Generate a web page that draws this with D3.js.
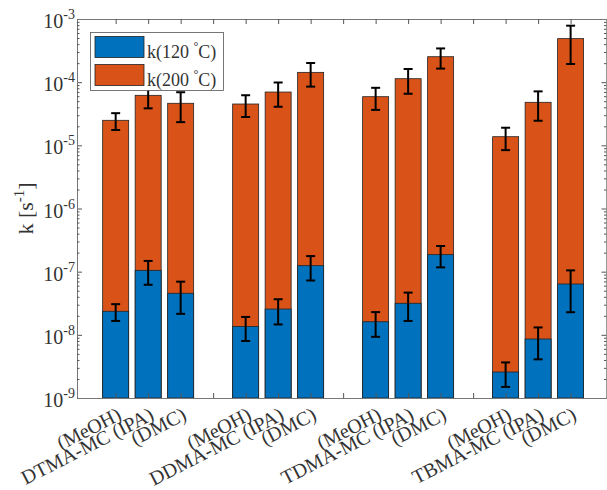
<!DOCTYPE html>
<html>
<head>
<meta charset="utf-8">
<script src="https://cdn.jsdelivr.net/npm/d3@7"></script>
<style>
  body { margin: 0; background: #fff; }
  svg { display: block; font-family: "Liberation Serif", "Times New Roman", serif; }
</style>
</head>
<body>
<div class="graph"></div>
<script>
// bar positions and labels (gaps at 4, 8, 12)
var positions = [1, 2, 3, 5, 6, 7, 9, 10, 11, 13, 14, 15];
var labels = ["(MeOH)", "DTMA-MC (IPA)", "(DMC)",
              "(MeOH)", "DDMA-MC (IPA)", "(DMC)",
              "(MeOH)", "TDMA-MC (IPA)", "(DMC)",
              "(MeOH)", "TBMA-MC (IPA)", "(DMC)"];
// rate constants [1/s]
var k120 = [2.36e-8, 1.05e-7, 4.55e-8, 1.36e-8, 2.56e-8, 1.245e-7, 1.61e-8, 3.16e-8, 1.86e-7, 2.58e-9, 8.59e-9, 6.38e-8];
var k120err = [0.7e-8, 0.43e-7, 2.4e-8, 0.56e-8, 1.1e-8, 0.52e-7, 0.68e-8, 1.5e-8, 0.69e-7, 1.08e-9, 4.5e-9, 4.1e-8];
var k200 = [2.49e-5, 6.19e-5, 4.63e-5, 4.51e-5, 6.98e-5, 1.43e-4, 5.89e-5, 1.135e-4, 2.53e-4, 1.37e-5, 4.80e-5, 4.89e-4];
var k200err = [0.74e-5, 2.34e-5, 2.3e-5, 1.7e-5, 2.9e-5, 0.58e-4, 2.25e-5, 4.8e-5, 0.89e-4, 0.53e-5, 2.35e-5, 2.95e-4];
var yExponents = [-9, -8, -7, -6, -5, -4, -3];
var legendLabels = ["120", "200"];

var blue = "#0072BD", orange = "#D95319";
var W = 607, H = 490;
var margin = { top: 19, right: 0, bottom: 92, left: 77 };
var plotL = margin.left, plotR = W - margin.right, plotT = margin.top, plotB = H - margin.bottom;

var svg = d3.select(".graph").append("svg")
    .attr("width", W)
    .attr("height", H);

var x = d3.scaleLinear().domain([-0.19, 16.12]).range([plotL, plotR]);
var y = d3.scaleLog().domain([1e-9, 1e-3]).range([plotB, plotT]);
var bw = (x(1) - x(0)) * 0.8;

var data = positions.map(function (p, i) {
    return { pos: p, label: labels[i], k120: k120[i], e120: k120err[i], k200: k200[i], e200: k200err[i] };
});

// bars: the 200 C bar behind, 120 C bar in front
var bars = svg.append("g");
bars.selectAll(".b200").data(data).enter().append("rect")
    .attr("x", function (d) { return x(d.pos) - bw / 2; })
    .attr("y", function (d) { return y(d.k200); })
    .attr("width", bw)
    .attr("height", function (d) { return plotB - y(d.k200); })
    .attr("fill", orange).attr("stroke", "#222").attr("stroke-width", 0.8);
bars.selectAll(".b120").data(data).enter().append("rect")
    .attr("x", function (d) { return x(d.pos) - bw / 2; })
    .attr("y", function (d) { return y(d.k120); })
    .attr("width", bw)
    .attr("height", function (d) { return plotB - y(d.k120); })
    .attr("fill", blue).attr("stroke", "#222").attr("stroke-width", 0.8);

// error bars
function errorBars(key, ekey) {
    var g = svg.append("g").attr("stroke", "#000").attr("stroke-width", 2).attr("fill", "none");
    data.forEach(function (d) {
        var cx = x(d.pos), y1 = y(d[key] + d[ekey]), y0 = y(d[key] - d[ekey]);
        g.append("line").attr("x1", cx).attr("x2", cx).attr("y1", y1).attr("y2", y0);
        g.append("line").attr("x1", cx - 4.5).attr("x2", cx + 4.5).attr("y1", y1).attr("y2", y1);
        g.append("line").attr("x1", cx - 4.5).attr("x2", cx + 4.5).attr("y1", y0).attr("y2", y0);
    });
}
errorBars("k200", "e200");
errorBars("k120", "e120");

// axes
var axisColor = "#777";
var majors = yExponents.map(function (e) { return Math.pow(10, e); });
var minors = [];
yExponents.slice(0, -1).forEach(function (e) {
    for (var m = 2; m <= 9; m++) minors.push(m * Math.pow(10, e));
});
var xticks = d3.range(1, 16);

function styleAxis(g) {
    g.select(".domain").attr("stroke", axisColor);
    g.selectAll(".tick line").attr("stroke", "#555");
    g.selectAll(".tick text").remove();
}
svg.append("g").attr("transform", "translate(" + plotL + ",0)")
    .call(d3.axisRight(y).tickValues(majors).tickSize(5).tickSizeOuter(0)).call(styleAxis);
svg.append("g").attr("transform", "translate(" + plotL + ",0)")
    .call(d3.axisRight(y).tickValues(minors).tickSize(2.5).tickSizeOuter(0)).call(styleAxis);
svg.append("g").attr("transform", "translate(" + (plotR - 0.5) + ",0)")
    .call(d3.axisLeft(y).tickValues(majors).tickSize(5).tickSizeOuter(0)).call(styleAxis);
svg.append("g").attr("transform", "translate(" + (plotR - 0.5) + ",0)")
    .call(d3.axisLeft(y).tickValues(minors).tickSize(2.5).tickSizeOuter(0)).call(styleAxis);
svg.append("g").attr("transform", "translate(0," + plotB + ")")
    .call(d3.axisTop(x).tickValues(xticks).tickSize(5).tickSizeOuter(0)).call(styleAxis);
svg.append("g").attr("transform", "translate(0," + plotT + ")")
    .call(d3.axisBottom(x).tickValues(xticks).tickSize(5).tickSizeOuter(0)).call(styleAxis);

// y tick labels 10^n
var textColor = "#333";
yExponents.forEach(function (e) {
    var t = svg.append("text")
        .attr("x", plotL - 2).attr("y", y(Math.pow(10, e)) + 9)
        .attr("text-anchor", "end").attr("fill", textColor).attr("font-size", 20);
    t.append("tspan").text("10");
    t.append("tspan").attr("font-size", 14).attr("dy", -9).text("-" + Math.abs(e));
});

// x tick labels, rotated
data.forEach(function (d) {
    svg.append("text")
        .attr("transform", "translate(" + (x(d.pos) + 7) + "," + (plotB + 21) + ") rotate(-27)")
        .attr("text-anchor", "end")
        .attr("fill", textColor).attr("font-size", 20)
        .text(d.label);
});

// y label
var yl = svg.append("text")
    .attr("transform", "translate(33," + ((plotT + plotB) / 2) + ") rotate(-90)")
    .attr("text-anchor", "middle").attr("fill", textColor).attr("font-size", 22);
yl.append("tspan").text("k [s");
yl.append("tspan").attr("font-size", 15).attr("dy", -9).text("-1");
yl.append("tspan").attr("dy", 9).text("]");

// legend
var lg = svg.append("g");
lg.append("rect").attr("x", 90.5).attr("y", 32.5).attr("width", 133).attr("height", 58)
    .attr("fill", "#fff").attr("stroke", "#555").attr("stroke-width", 0.8);
[blue, orange].forEach(function (c, i) {
    var yy = 36.5 + i * 28;
    lg.append("rect").attr("x", 95).attr("y", yy).attr("width", 49).attr("height", 21)
        .attr("fill", c).attr("stroke", "#222").attr("stroke-width", 0.8);
    var t = lg.append("text").attr("x", 147).attr("y", yy + 21.5)
        .attr("fill", textColor).attr("font-size", 18);
    t.append("tspan").text("k(" + legendLabels[i] + " ");
    t.append("tspan").attr("font-size", 12).attr("dy", -8).text("°");
    t.append("tspan").attr("dy", 8).text("C)");
});
</script>
</body>
</html>
